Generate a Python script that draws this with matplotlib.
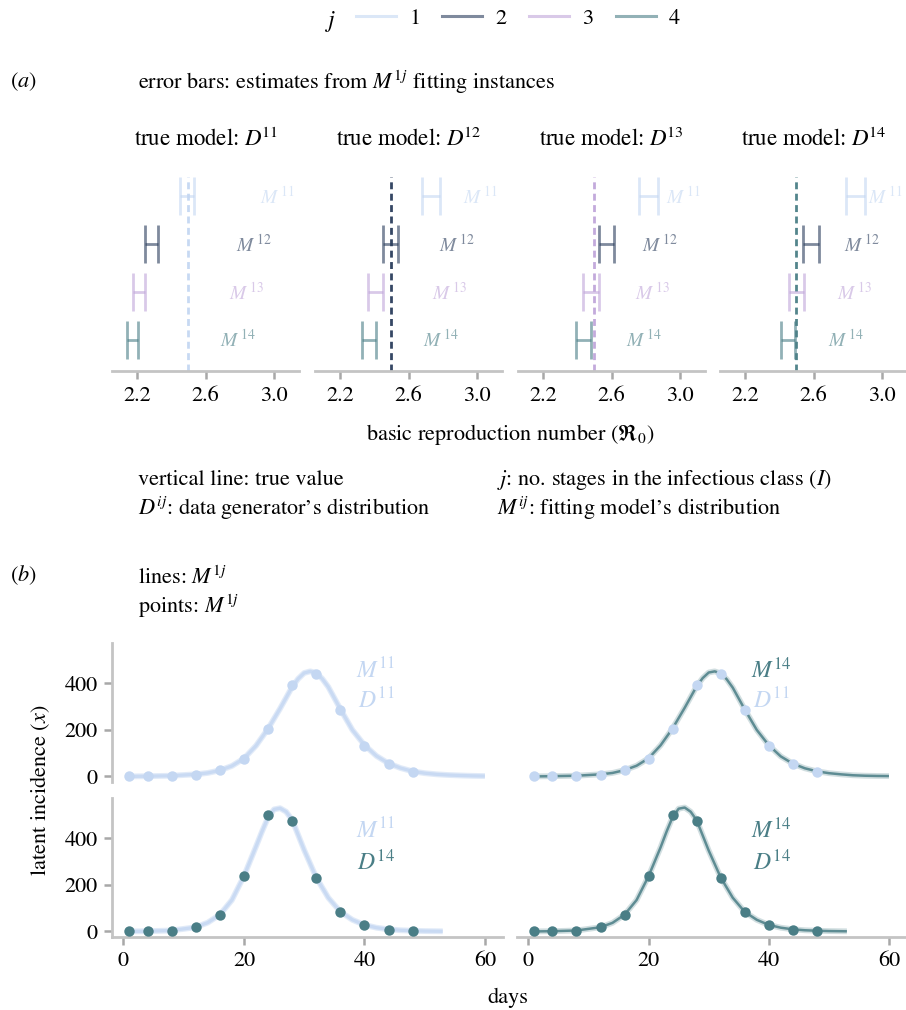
import matplotlib
matplotlib.use("Agg")
import matplotlib.pyplot as plt
from matplotlib.lines import Line2D

plt.rcParams['font.family'] = ['STIXGeneral', 'DejaVu Serif']
plt.rcParams['mathtext.fontset'] = 'stix'
plt.rcParams['font.size'] = 15

# ---------------- data ----------------
colors = ['#c4d7f2', '#2a3d5c', '#c0a6da', '#4a7e86']
j_labels = ['1', '2', '3', '4']
true_R0 = 2.5
panel_titles = [r'true model: $D^{\!11}$', r'true model: $D^{\!12}$',
                r'true model: $D^{\!13}$', r'true model: $D^{\!14}$']
row_labels = [r'$M^{\,11}$', r'$M^{\,12}$', r'$M^{\,13}$', r'$M^{\,14}$']
row_label_x = [3.02, 2.88, 2.84, 2.79]
# estimate intervals [low, high] per true model (panel) and fitting model (row)
est_low = [
    [2.449, 2.246, 2.177, 2.142],
    [2.681, 2.449, 2.362, 2.327],
    [2.762, 2.525, 2.432, 2.391],
    [2.791, 2.536, 2.455, 2.409],
]
est_high = [
    [2.530, 2.322, 2.246, 2.206],
    [2.786, 2.536, 2.449, 2.409],
    [2.872, 2.617, 2.525, 2.478],
    [2.901, 2.635, 2.542, 2.490],
]
r0_ticks = [2.2, 2.6, 3.0]

obs_days = [1, 4, 8, 12, 16, 20, 24, 28, 32, 36, 40, 44, 48]
obs_D11 = [0, 1, 2, 8, 26, 77, 204, 394, 441, 287, 133, 55, 20]
obs_D14 = [0, 0, 3, 19, 72, 238, 499, 476, 231, 82, 26, 7, 1]

fit_days_D11 = [1, 4, 8, 12, 14, 16, 18, 20, 22, 24, 26, 28, 29, 30, 31, 32, 33,
                34, 36, 38, 40, 42, 44, 46, 48, 50, 52, 54, 56, 58, 60]
fit_M11_D11 = [0, 1, 3, 9, 15, 26, 45, 77, 132, 205, 292, 385, 420, 445, 452, 445,
               420, 385, 290, 200, 135, 88, 56, 36, 22, 14, 9, 6, 4, 2.5, 1.5]
fit_M14_D11 = [0, 1, 3, 9, 15, 27, 46, 78, 134, 207, 295, 388, 423, 447, 452, 443,
               418, 382, 288, 200, 134, 86, 55, 35, 22, 14, 9, 5, 3, 2, 1.5]
fit_days_D14 = [1, 4, 8, 12, 14, 16, 18, 20, 22, 23, 24, 25, 26, 27, 28, 30, 32,
                34, 36, 38, 40, 42, 44, 46, 48, 50, 53]
fit_M11_D14 = [0, 1, 4, 18, 38, 72, 135, 238, 365, 430, 490, 525, 530, 515, 480,
               350, 232, 145, 85, 50, 28, 16, 9, 5, 3, 1.5, 0.5]
fit_M14_D14 = [0, 1, 4, 18, 37, 72, 135, 238, 362, 430, 492, 528, 533, 515, 478,
               348, 232, 145, 84, 50, 28, 16, 9, 5, 3, 1.5, 0.5]

W, H = 906, 1010
fig = plt.figure(figsize=(W / 100, H / 100), dpi=100)


def rect(x0, x1, ytop, ybot):
    return [x0 / W, 1 - ybot / H, (x1 - x0) / W, (ybot - ytop) / H]


spine_c = '#c4c4c4'
tick_c = '#a8a8a8'

# ---------------- legend ----------------
handles = [Line2D([], [], color=c, lw=2.2, alpha=0.6) for c in colors]
fig.legend(handles, j_labels, ncol=4, loc='center', bbox_to_anchor=(518 / W, 1 - 19 / H),
           frameon=False, handlelength=1.8, columnspacing=1.0, handletextpad=0.6,
           fontsize=16)
fig.text(331 / W, 1 - 21 / H, r'$j$', fontsize=17, ha='center', va='center')

fig.text(10 / W, 1 - 82 / H, r'($\mathit{a}$)', fontsize=16, va='center')
fig.text(138 / W, 1 - 82 / H, r'error bars: estimates from $M^{1j}$ fitting instances',
         fontsize=16, va='center')

# ---------------- panel a ----------------
x_edges = [(112, 299), (315, 502), (518, 705), (720, 907)]
rows = [4, 3, 2, 1]
axes_a = []
for p in range(4):
    ax = fig.add_axes(rect(x_edges[p][0], x_edges[p][1], 177, 371))
    axes_a.append(ax)
    ax.set_xlim(2.054, 3.146)
    ax.set_ylim(0.354, 4.4)
    ax.axvline(true_R0, color=colors[p], lw=2, ls=(0, (2.5, 1.6)), alpha=0.95, zorder=1)
    for r in range(4):
        lo, hi = est_low[p][r], est_high[p][r]
        ax.errorbar([(lo + hi) / 2], [rows[r]], xerr=[[(hi - lo) / 2], [(hi - lo) / 2]],
                    fmt='none', ecolor=colors[r], alpha=0.6, elinewidth=2,
                    capsize=13.5, capthick=2, zorder=2)
        ax.text(row_label_x[r], rows[r], row_labels[r], color=colors[r], alpha=0.6,
                fontsize=14, ha='center', va='center', clip_on=False)
    for s in ['top', 'left', 'right']:
        ax.spines[s].set_visible(False)
    ax.spines['bottom'].set_color(spine_c)
    ax.spines['bottom'].set_linewidth(2)
    ax.set_yticks([])
    ax.set_xticks(r0_ticks)
    ax.set_xticklabels(['%.1f' % t for t in r0_ticks])
    ax.tick_params(axis='x', colors=tick_c, labelcolor='black', length=6, width=1.8,
                   labelsize=16, pad=5)
    ax.patch.set_alpha(0)
    ax.text(0.5, 1 + 38 / 194, panel_titles[p], transform=ax.transAxes,
            ha='center', va='center', fontsize=16.5)

fig.text(510 / W, 1 - 435 / H, r'basic reproduction number ($\Re_0$)', fontsize=16,
         ha='center', va='center')

fig.text(138 / W, 1 - 480 / H, 'vertical line: true value', fontsize=16, va='center')
fig.text(138 / W, 1 - 508 / H, r"$D^{ij}$: data generator’s distribution", fontsize=16,
         va='center')
fig.text(497 / W, 1 - 480 / H, r'$j$: no. stages in the infectious class ($I$)',
         fontsize=16, va='center')
fig.text(497 / W, 1 - 508 / H, r"$M^{ij}$: fitting model’s distribution", fontsize=16,
         va='center')

fig.text(10 / W, 1 - 575 / H, r'($\mathit{b}$)', fontsize=16, va='center')
fig.text(138 / W, 1 - 578 / H, r'lines: $M^{1j}$', fontsize=16, va='center')
fig.text(138 / W, 1 - 606 / H, r'points: $M^{1j}$', fontsize=16, va='center')

# ---------------- panel b ----------------
col_edges = [(112, 503), (517, 907)]
row_edges = [(643, 782), (798, 937)]
panels_b = [
    (0, 0, fit_days_D11, fit_M11_D11, colors[0], obs_D11, colors[0], r'$M^{11}$', r'$D^{11}$'),
    (0, 1, fit_days_D11, fit_M14_D11, colors[3], obs_D11, colors[0], r'$M^{14}$', r'$D^{11}$'),
    (1, 0, fit_days_D14, fit_M11_D14, colors[0], obs_D14, colors[3], r'$M^{11}$', r'$D^{14}$'),
    (1, 1, fit_days_D14, fit_M14_D14, colors[3], obs_D14, colors[3], r'$M^{14}$', r'$D^{14}$'),
]
for (ri, ci, fd, fv, lc, ov, pc, mlab, dlab) in panels_b:
    ax = fig.add_axes(rect(col_edges[ci][0], col_edges[ci][1], row_edges[ri][0], row_edges[ri][1]))
    ax.set_xlim(-1.9, 63)
    ax.set_ylim(-24, 574)
    if lc == colors[0]:
        ax.plot(fd, fv, color=lc, lw=4.2, alpha=0.5, solid_capstyle='butt', zorder=1)
        ax.plot(fd, fv, color=lc, lw=2.4, alpha=0.8, solid_capstyle='butt', zorder=1)
    else:
        ax.plot(fd, fv, color=lc, lw=4.2, alpha=0.25, solid_capstyle='butt', zorder=1)
        ax.plot(fd, fv, color=lc, lw=1.8, alpha=0.85, solid_capstyle='butt', zorder=1)
    ax.plot(obs_days, ov, 'o', color=pc, ms=7.5, mec='none', zorder=3)
    ax.text(40.5 if ci == 1 else 41.8, 456 if ri == 0 else 434, mlab, color=lc,
            fontsize=17, ha='center', va='center')
    ax.text(40.5 if ci == 1 else 41.9, 325 if ri == 0 else 297, dlab, color=pc,
            fontsize=17, ha='center', va='center')
    for s in ['top', 'right']:
        ax.spines[s].set_visible(False)
    for s in ['left', 'bottom']:
        ax.spines[s].set_color(spine_c)
        ax.spines[s].set_linewidth(2)
    if ci == 1:
        ax.spines['left'].set_visible(False)
        ax.set_yticks([])
    else:
        ax.set_yticks([0, 200, 400])
    if ri == 0:
        ax.spines['bottom'].set_visible(False)
        ax.set_xticks([])
    else:
        ax.set_xticks([0, 20, 40, 60])
    ax.tick_params(colors=tick_c, labelcolor='black', length=5.5, width=1.8,
                   labelsize=16, pad=5)
    ax.patch.set_alpha(0)

fig.text(40 / W, 1 - 790 / H, r'latent incidence ($x$)', fontsize=16, rotation=90,
         ha='center', va='center')
fig.text(508 / W, 1 - 998 / H, 'days', fontsize=16, ha='center', va='center')

fig.savefig('out.png', dpi=100)
